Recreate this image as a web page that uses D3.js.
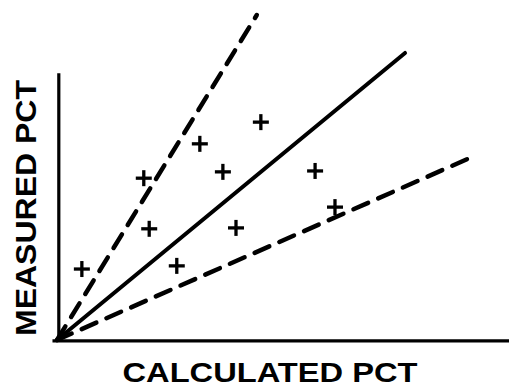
<!DOCTYPE html>
<meta charset="utf-8">
<style>
    body { margin: 0; background: #fff; }
    svg { display: block; }
    .axis-line { stroke: #000; stroke-width: 3.2; fill: none; }
    .ref { stroke: #000; fill: none; stroke-linecap: round; }
    .mark { stroke: #000; stroke-width: 3.3; }
    .label { font-family: "Liberation Sans", Arial, sans-serif; font-weight: bold; fill: #000; }
</style>
<svg width="509" height="389"></svg>
<script src="https://cdn.jsdelivr.net/npm/d3@7"></script>
<script>

    var svg = d3.select("svg");

    // measured vs calculated points
    var calculated = [5.5, 19.2, 20.4, 26.5, 31.6, 36.7, 39.6, 45.1, 57.1, 61.5];
    var measured = [15.7, 35.8, 24.6, 16.4, 43.4, 37.2, 24.8, 48.2, 37.4, 29.4];

    // reference lines from the origin: end point in data units
    var lineNames = ["upper", "equal", "lower"];
    var lineEndX = [44.2, 77.0, 91.4];
    var lineEndY = [71.9, 63.5, 40.3];

    var x = d3.scaleLinear()
        .domain([0, 100])
        .range([57, 509]);

    var y = d3.scaleLinear()
        .domain([0, 100])
        .range([340, -112]);

    // axes (no ticks)
    svg.append("line")
        .attr("class", "axis-line")
        .attr("x1", x(0.4)).attr("x2", x(0.4))
        .attr("y1", y(0)).attr("y2", y(59));

    svg.append("line")
        .attr("class", "axis-line")
        .attr("x1", x(-1)).attr("x2", x(100))
        .attr("y1", y(-0.2)).attr("y2", y(-0.2));

    svg.selectAll("line.ref")
        .data(lineNames)
        .enter()
        .append("line")
        .attr("class", "ref")
        .attr("x1", x(0))
        .attr("y1", y(0))
        .attr("x2", function (d, i) { return x(lineEndX[i]); })
        .attr("y2", function (d, i) { return y(lineEndY[i]); })
        .attr("stroke-width", function (d) { return d == "equal" ? 4 : 4.5; })
        .attr("stroke-dasharray", function (d) { return d == "equal" ? null : "16 11"; });

    var s = 8;
    var marks = svg.append("g")
        .selectAll("g")
        .data(calculated)
        .enter()
        .append("g")
        .attr("transform", function (d, i) { return "translate(" + x(d) + "," + y(measured[i]) + ")"; });

    marks.append("line").attr("class", "mark")
        .attr("x1", -s).attr("x2", s).attr("y1", 0).attr("y2", 0);
    marks.append("line").attr("class", "mark")
        .attr("x1", 0).attr("x2", 0).attr("y1", -s).attr("y2", s);

    svg.append("text")
        .attr("class", "label")
        .attr("x", 270)
        .attr("y", 382)
        .attr("font-size", 28)
        .attr("text-anchor", "middle")
        .attr("textLength", 295)
        .attr("lengthAdjust", "spacingAndGlyphs")
        .text("CALCULATED PCT");

    svg.append("text")
        .attr("class", "label")
        .attr("transform", "translate(36,208) rotate(-90)")
        .attr("font-size", 29)
        .attr("text-anchor", "middle")
        .attr("textLength", 256)
        .attr("lengthAdjust", "spacingAndGlyphs")
        .text("MEASURED PCT");

</script>
